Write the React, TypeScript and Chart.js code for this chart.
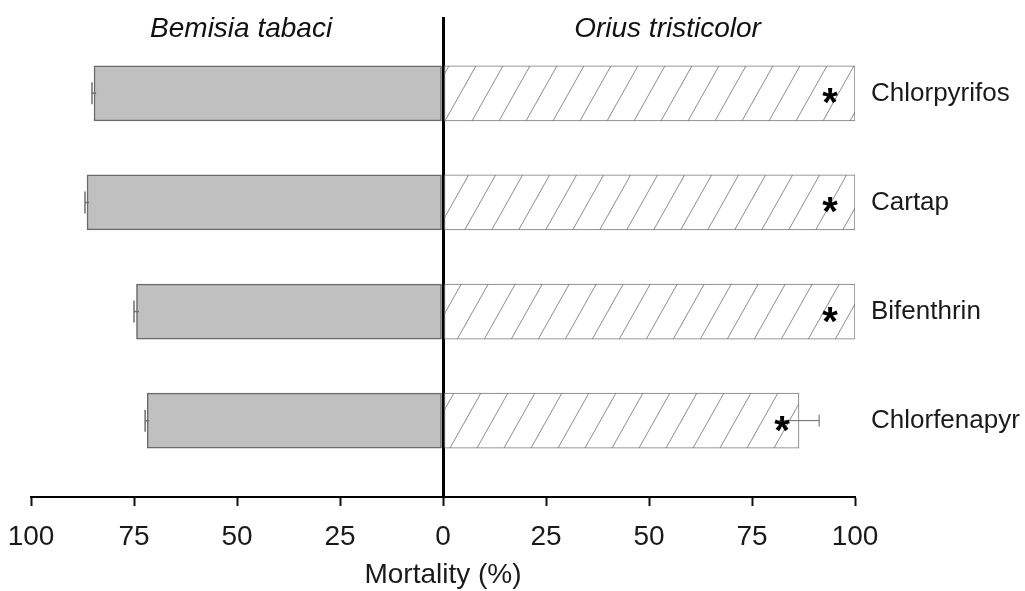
import React, { useEffect, useRef } from "react";
import { Chart, registerables } from "chart.js";

Chart.register(...registerables);

// ---- data ----
const insecticides = ["Chlorpyrifos", "Cartap", "Bifenthrin", "Chlorfenapyr"];
const species = ["Bemisia tabaci", "Orius tristicolor"];
const bemisiaMortality = [84.7, 86.4, 74.4, 71.8];
const bemisiaError = [0.5, 0.5, 0.6, 0.5];
const oriusMortality = [100, 100, 100, 86.4];
const oriusError = [0, 0, 0, 4.9];
const oriusSignificant = [true, true, true, true];
const xTickStep = 25;
const axisTitle = "Mortality (%)";

const FONT = "'Liberation Sans', Arial, Helvetica, sans-serif";

function makeHatch(): CanvasPattern | string {
  const w = 27;
  const h = 48;
  const c = document.createElement("canvas");
  c.width = w;
  c.height = h;
  const g = c.getContext("2d");
  if (!g) return "#fff";
  g.fillStyle = "#ffffff";
  g.fillRect(0, 0, w, h);
  g.strokeStyle = "#8c8c8c";
  g.lineWidth = 1;
  g.beginPath();
  for (const dx of [-w, 0, w]) {
    g.moveTo(dx, h);
    g.lineTo(dx + w, 0);
  }
  g.stroke();
  const p = g.createPattern(c, "repeat");
  return p || "#fff";
}

const annotations = {
  id: "annotations",
  afterDraw(chart: any) {
    const { ctx, chartArea, scales } = chart;
    const xs = scales.x;
    ctx.save();
    // error bars
    chart.data.datasets.forEach((ds: any, di: number) => {
      const meta = chart.getDatasetMeta(di);
      meta.data.forEach((bar: any, i: number) => {
        const e = ds.errors[i];
        if (!e) return;
        const v = ds.data[i].x;
        const endX = xs.getPixelForValue(v + ds.sign * e);
        const startX = xs.getPixelForValue(v - ds.sign * e);
        ctx.strokeStyle = ds.errColor;
        ctx.lineWidth = ds.errWidth;
        ctx.beginPath();
        ctx.moveTo(startX, bar.y);
        ctx.lineTo(endX, bar.y);
        ctx.moveTo(endX, bar.y - ds.capHalf);
        ctx.lineTo(endX, bar.y + ds.capHalf);
        ctx.stroke();
      });
    });
    // asterisks
    const meta1 = chart.getDatasetMeta(1);
    meta1.data.forEach((bar: any, i: number) => {
      if (!oriusSignificant[i]) return;
      const inset = oriusMortality[i] >= 100 ? 25 : 17;
      ctx.fillStyle = "#000";
      ctx.font = `bold 40px ${FONT}`;
      ctx.textAlign = "center";
      ctx.textBaseline = "alphabetic";
      ctx.fillText("*", bar.x - inset, bar.y + 23);
    });
    // species headers
    ctx.fillStyle = "#111";
    ctx.font = `italic 28px ${FONT}`;
    ctx.textAlign = "center";
    ctx.textBaseline = "middle";
    ctx.fillText(species[0], xs.getPixelForValue(-49), chartArea.top + 12);
    ctx.fillText(species[1], xs.getPixelForValue(54.5), chartArea.top + 12);
    ctx.restore();
  },
};

export default function App() {
  const ref = useRef<HTMLCanvasElement | null>(null);

  useEffect(() => {
    if (!ref.current) return;
    Chart.defaults.font.family = FONT;
    const hatch = makeHatch();
    const chart = new Chart(ref.current, {
      type: "bar",
      data: {
        datasets: [
          {
            label: species[0],
            data: bemisiaMortality.map((v, i) => ({ x: -v, y: i })),
            backgroundColor: "#c0c0c0",
            borderColor: "#6a6a6a",
            borderWidth: 1.5,
            borderSkipped: false,
            grouped: false,
            barThickness: 55,
            errors: bemisiaError,
            sign: -1,
            errColor: "#707070",
            errWidth: 1.5,
            capHalf: 11,
          } as any,
          {
            label: species[1],
            data: oriusMortality.map((v, i) => ({ x: v, y: i })),
            backgroundColor: hatch as any,
            borderColor: "#777",
            borderWidth: 1,
            borderSkipped: false,
            grouped: false,
            barThickness: 55,
            errors: oriusError,
            sign: 1,
            errColor: "#666",
            errWidth: 1,
            capHalf: 6,
          } as any,
        ],
      },
      options: {
        indexAxis: "y",
        animation: false,
        responsive: true,
        maintainAspectRatio: false,
        layout: { padding: { left: 31, top: 17, right: 0, bottom: 0 } },
        plugins: { legend: { display: false }, tooltip: { enabled: false } },
        scales: {
          x: {
            type: "linear",
            position: "bottom",
            min: -100,
            max: 100,
            z: 1,
            afterFit: (s: any) => {
              s.height = 94;
              s.paddingLeft = 0;
              s.paddingRight = 0;
            },
            ticks: {
              stepSize: xTickStep,
              callback: (v: any) => String(Math.abs(Number(v))),
              color: "#1a1a1a",
              font: { size: 28 },
              padding: 14,
              maxRotation: 0,
            },
            grid: {
              drawOnChartArea: true,
              drawTicks: true,
              tickLength: 9,
              color: (c: any) => (c.tick && c.tick.value === 0 ? "#000" : "rgba(0,0,0,0)"),
              lineWidth: (c: any) => (c.tick && c.tick.value === 0 ? 3 : 1),
              tickColor: "#111",
              tickWidth: 2,
            },
            border: { display: true, color: "#000", width: 2 },
            title: {
              display: true,
              text: axisTitle,
              color: "#1a1a1a",
              font: { size: 28, lineHeight: 1.1 },
              padding: { top: 0, bottom: 0 },
            },
          },
          y: {
            type: "linear",
            position: "right",
            reverse: true,
            offset: false,
            min: -0.7,
            max: 3.7,
            afterBuildTicks: (s: any) => {
              s.ticks = insecticides.map((_, i) => ({ value: i }));
            },
            afterFit: (s: any) => {
              s.width = 170;
              s.paddingTop = 0;
              s.paddingBottom = 0;
            },
            ticks: {
              callback: (v: any) => insecticides[Number(v)] ?? "",
              color: "#1a1a1a",
              font: { size: 26 },
              padding: 16,
              autoSkip: false,
            },
            grid: { display: false, drawTicks: false, offset: false },
            border: { display: false },
          },
        },
      },
      plugins: [annotations],
    });
    return () => chart.destroy();
  }, []);

  return (
    <div style={{ position: "fixed", left: 0, top: 0, width: 1025, height: 591, background: "#fff" }}>
      <canvas ref={ref} />
    </div>
  );
}
